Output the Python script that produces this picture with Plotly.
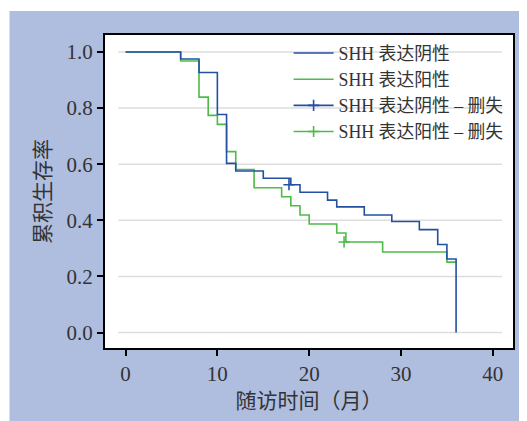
import plotly.graph_objects as go

# Kaplan-Meier step data
neg_time = [0, 6, 8, 10, 11, 12, 15, 18, 19, 22, 23, 26, 29, 32, 34, 35, 36]
neg_surv = [1.0, 0.975, 0.927, 0.777, 0.603, 0.576, 0.550, 0.527, 0.500, 0.472,
            0.448, 0.419, 0.396, 0.367, 0.314, 0.262, 0.0]

pos_time = [0, 6, 8, 9, 10, 11, 12, 14, 17, 18, 19, 20, 23, 24, 28, 35, 36]
pos_surv = [1.0, 0.968, 0.839, 0.774, 0.742, 0.645, 0.581, 0.516, 0.484, 0.452,
            0.419, 0.387, 0.355, 0.323, 0.287, 0.251, 0.251]

neg_cens_time = [17.8]
neg_cens_surv = [0.527]
pos_cens_time = [23.8]
pos_cens_surv = [0.323]

names = ["SHH 表达阴性", "SHH 表达阳性", "SHH 表达阴性 – 删失", "SHH 表达阳性 – 删失"]
x_ticks = [0, 10, 20, 30, 40]
y_ticks = [0.0, 0.2, 0.4, 0.6, 0.8, 1.0]
x_title = "随访时间（月）"
y_title = "累积生存率"

BLUE = "#2450A4"
GREEN = "#4DBB48"
BG = "#AFBDDF"
FONT = "Liberation Serif, Noto Sans CJK SC, serif"
TXT = "#333333"

W, H = 519, 413
ML, MR, MT, MB = 97, 12, 27, 73
PW, PH = W - ML - MR, H - MT - MB

fig = go.Figure()
fig.add_trace(go.Scatter(x=pos_time, y=pos_surv, mode="lines", line_shape="hv",
                         line=dict(color=GREEN, width=1.6), name=names[1], legendrank=2))
fig.add_trace(go.Scatter(x=neg_time, y=neg_surv, mode="lines", line_shape="hv",
                         line=dict(color=BLUE, width=1.6), name=names[0], legendrank=1))
fig.add_trace(go.Scatter(x=neg_cens_time, y=neg_cens_surv, mode="lines+markers",
                         line=dict(color=BLUE, width=1.6),
                         marker=dict(symbol="cross-thin", size=8, line=dict(color=BLUE, width=1.6)),
                         name=names[2], legendrank=3))
fig.add_trace(go.Scatter(x=pos_cens_time, y=pos_cens_surv, mode="lines+markers",
                         line=dict(color=GREEN, width=1.6),
                         marker=dict(symbol="cross-thin", size=8, line=dict(color=GREEN, width=1.6)),
                         name=names[3], legendrank=4))

shapes = []
for yv in y_ticks:
    shapes.append(dict(type="line", xref="x", yref="y", x0=-0.8, x1=41.0, y0=yv, y1=yv,
                       line=dict(color="#DDDDDD", width=1.5), layer="below"))
# thin white outer strips (top and left)
shapes.append(dict(type="rect", xref="paper", yref="paper", x0=-0.5, x1=1.5,
                   y0=1 + (MT - 3) / PH, y1=1.5, fillcolor="white", line=dict(width=0), layer="above"))
shapes.append(dict(type="rect", xref="paper", yref="paper", x0=-0.5, x1=(1 - ML) / PW,
                   y0=-0.5, y1=1.5, fillcolor="white", line=dict(width=0), layer="above"))

fig.update_layout(
    width=W, height=H,
    margin=dict(l=ML, r=MR, t=MT, b=MB),
    paper_bgcolor=BG, plot_bgcolor="white",
    font=dict(family=FONT, size=20, color=TXT),
    shapes=shapes,
    showlegend=True,
    legend=dict(x=0.45, y=1.0, xanchor="left", yanchor="top",
                bgcolor="rgba(0,0,0,0)", font=dict(family=FONT, size=17.8, color=TXT),
                tracegroupgap=0, itemwidth=40),
)
fig.update_xaxes(range=[-2.24, 42.2], tickvals=x_ticks, showgrid=False, zeroline=False,
                 showline=True, linecolor="black", linewidth=2, mirror=True,
                 ticks="outside", ticklen=6, tickwidth=1.5, tickcolor="black",
                 tickfont=dict(family=FONT, size=21, color=TXT),
                 title=dict(text=x_title, standoff=8, font=dict(family=FONT, size=21, color=TXT)))
fig.update_yaxes(range=[-0.055, 1.0605], tickvals=y_ticks, tickformat=".1f", showgrid=False,
                 zeroline=False, showline=True, linecolor="black", linewidth=2, mirror=True,
                 ticks="outside", ticklen=6, tickwidth=1.5, tickcolor="black",
                 tickfont=dict(family=FONT, size=21, color=TXT),
                 title=dict(text=y_title, standoff=10, font=dict(family=FONT, size=21, color=TXT)))

fig.write_html("out.html")
